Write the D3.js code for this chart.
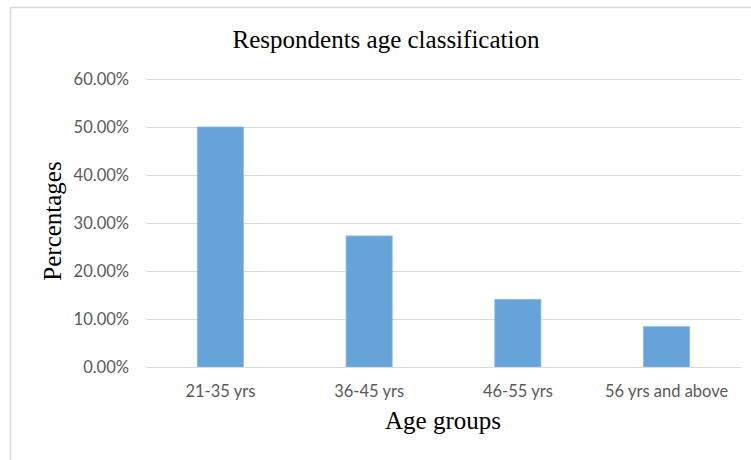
<!DOCTYPE html>
<html><head><meta charset="utf-8">
<script src="https://cdn.jsdelivr.net/npm/d3@7"></script>
<style>body{margin:0;background:#fff}svg{display:block}</style>
</head><body>
<svg id="c" width="751" height="460"></svg>
<script>
const categories = ["21-35 yrs", "36-45 yrs", "46-55 yrs", "56 yrs and above"];
const values = [50.0, 27.3, 14.1, 8.4];
const yTicks = [0, 10, 20, 30, 40, 50, 60];
const titleText = "Respondents age classification";
const xTitle = "Age groups";
const yTitle = "Percentages";

const svg = d3.select("#c");
const plot = {left: 146, right: 741, top: 79, bottom: 367};
const labelFont = "Lato, 'Open Sans', sans-serif";
const serif = "'Liberation Serif', 'Times New Roman', serif";

svg.append("rect").attr("x", 10.5).attr("y", 7.5).attr("width", 760).attr("height", 470)
  .attr("fill", "#fff").attr("stroke", "#d9d9d9").attr("stroke-width", 1.5);

const x = d3.scaleBand().domain(categories).range([plot.left, plot.right]).padding(0);
const y = d3.scaleLinear().domain([0, 60]).range([plot.bottom, plot.top]);

const yAxis = d3.axisLeft(y).tickValues(yTicks).tickSize(-(plot.right - plot.left))
  .tickPadding(17).tickFormat(d => d.toFixed(2) + "%");
const gy = svg.append("g").attr("transform", `translate(${plot.left},0)`).call(yAxis);
gy.select(".domain").remove();
gy.selectAll(".tick line").attr("stroke", "#d9d9d9").attr("stroke-width", 1);
gy.selectAll(".tick text").attr("fill", "#595959").attr("font-family", labelFont).attr("font-size", 16.5);

const bw = x.bandwidth() * 0.31;
svg.selectAll("rect.bar").data(values).enter().append("rect").attr("class", "bar")
  .attr("x", (d, i) => x(categories[i]) + x.bandwidth() / 2 - bw / 2)
  .attr("y", d => y(d))
  .attr("width", bw)
  .attr("height", d => y(0) - y(d))
  .attr("fill", "#65a3d9").attr("stroke", "#8bbbe6").attr("stroke-width", 0.8);

const xAxis = d3.axisBottom(x).tickSize(0).tickPadding(18);
const gx = svg.append("g").attr("transform", `translate(0,${plot.bottom})`).call(xAxis);
gx.select(".domain").attr("stroke", "#d9d9d9").attr("stroke-width", 1.2);
gx.selectAll(".tick text").attr("fill", "#595959").attr("font-family", labelFont).attr("font-size", 16.5);

svg.append("text").attr("x", 386).attr("y", 48).attr("text-anchor", "middle")
  .attr("font-family", serif).attr("font-size", 25).attr("fill", "#000")
  .text(titleText);
svg.append("text").attr("x", 443).attr("y", 429).attr("text-anchor", "middle")
  .attr("font-family", serif).attr("font-size", 25).attr("fill", "#000")
  .text(xTitle);
svg.append("text").attr("transform", "translate(61,221) rotate(-90)").attr("text-anchor", "middle")
  .attr("font-family", serif).attr("font-size", 25).attr("fill", "#000")
  .text(yTitle);
</script>
</body></html>
